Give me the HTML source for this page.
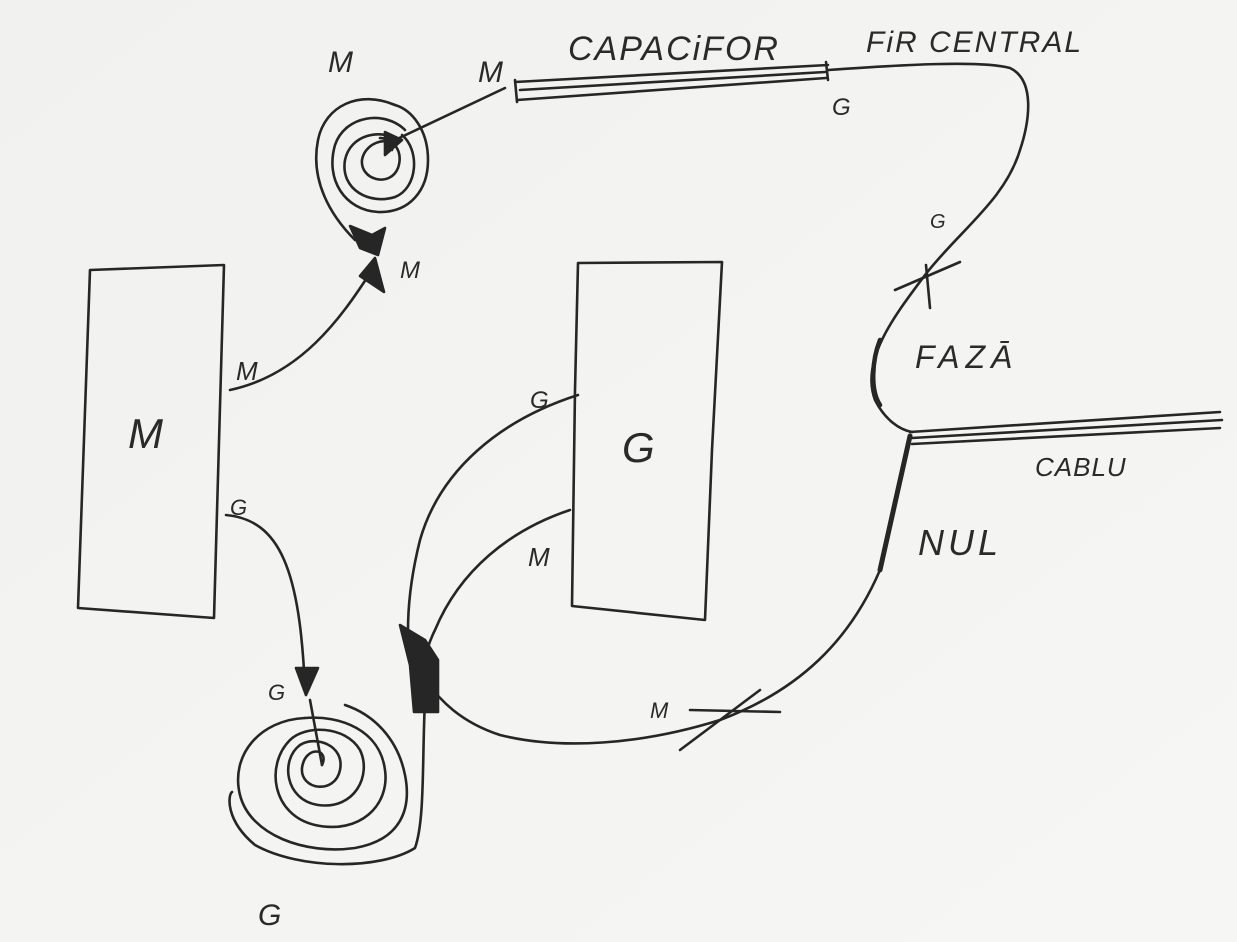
<!DOCTYPE html>
<html><head><meta charset="utf-8"><style>
html,body{margin:0;padding:0;background:#f3f3f1;}
svg{display:block}
text{font-family:"Liberation Sans",sans-serif;fill:#2a2a2a;font-style:italic}
</style></head><body>
<svg width="1237" height="942" viewBox="0 0 1237 942" xmlns="http://www.w3.org/2000/svg">
<defs><linearGradient id="bg" x1="0" y1="0" x2="1" y2="1"><stop offset="0" stop-color="#f1f1ef"/><stop offset="1" stop-color="#f6f6f4"/></linearGradient></defs>
<rect width="1237" height="942" fill="url(#bg)"/>
<g fill="none" stroke="#262626" stroke-width="2.6" stroke-linecap="round" stroke-linejoin="round">
<!-- M box -->
<path d="M90 270 L224 265 L214 618 L78 608 Z"/>
<!-- G box -->
<path d="M578 263 L722 262 L712 450 L705 620 L572 606 L575 390 Z"/>
<!-- top spiral -->
<path d="M392 150 C395 135 365 140 362 160 C360 180 390 188 398 168 C404 150 392 138 380 138"/>
<path d="M398 140 C380 128 350 135 345 160 C340 190 370 205 395 197 C418 188 420 150 402 135"/>
<path d="M405 130 C385 110 345 115 335 145 C325 180 345 210 378 212 C410 213 428 190 428 160 C428 130 412 110 395 105"/>
<path d="M395 105 C360 90 325 105 318 140 C310 180 330 215 355 240"/>
<path d="M395 140 L505 88"/>
<path d="M385 132 L402 140 L385 155 Z" fill="#262626"/>
<path d="M350 226 L372 235 L385 228 L378 255 L360 248 Z" fill="#262626"/>
<path d="M360 276 L375 258 L384 292 Z" fill="#262626"/>
<!-- capacitor -->
<path d="M515 82 L828 65 M517 100 L826 78 M515 80 L517 102 M826 62 L828 80 M520 90 L825 72"/>
<!-- wire from capacitor -->
<path d="M828 70 C900 65 980 60 1010 68 C1035 80 1030 120 1020 150 C1005 200 960 230 925 275 C895 315 860 360 875 400 C885 420 900 430 912 432"/>
<path d="M895 290 L960 262 M926 265 L930 308"/>
<path d="M880 340 C872 360 870 390 880 405" stroke-width="4.5"/>
<!-- cable -->
<path d="M910 432 L1220 412 M912 438 L1222 420 M912 444 L1220 428"/>
<!-- nul wire -->
<path d="M910 436 L880 570" stroke-width="5"/>
<path d="M880 570 C850 640 800 690 720 720 C640 745 560 750 500 735 C460 722 440 700 425 680"/>
<path d="M680 750 L760 690 M690 710 L780 712"/>
<!-- M box to top spiral -->
<path d="M230 390 C300 375 340 320 372 270"/>
<!-- M box G to bottom spiral -->
<path d="M226 515 C280 520 300 570 305 690"/>
<path d="M296 668 L318 668 L306 695 Z" fill="#262626"/>
<!-- G box to arrow -->
<path d="M578 395 C500 420 440 470 420 540 C405 600 405 650 415 685"/>
<path d="M570 510 C510 530 460 570 435 630 C425 650 422 670 420 690"/>
<path d="M400 625 L425 640 L438 660 L438 712 L414 712 L410 665 Z" fill="#262626"/>
<path d="M425 700 C422 760 425 820 415 848 C380 870 300 870 255 845 C225 820 228 795 232 792"/>
<!-- bottom spiral -->
<path d="M310 700 L322 765"/>
<path d="M322 765 C330 748 305 745 302 768 C300 790 335 795 340 770 C345 745 315 735 300 745"/>
<path d="M300 745 C280 760 285 800 318 805 C355 810 372 775 360 750 C345 725 305 725 290 740"/>
<path d="M290 740 C265 765 272 815 315 825 C360 835 390 805 385 770 C380 730 340 715 305 718"/>
<path d="M305 718 C260 720 230 755 240 795 C250 835 305 855 355 848 C400 840 412 810 405 775 C398 740 375 715 345 705"/>
</g>
<g>
<text x="328" y="72" font-size="30">M</text>
<text x="478" y="82" font-size="30">M</text>
<text x="568" y="60" font-size="34" letter-spacing="2">CAPACiFOR</text>
<text x="866" y="52" font-size="30" letter-spacing="2">FiR CENTRAL</text>
<text x="832" y="115" font-size="24">G</text>
<text x="400" y="278" font-size="24">M</text>
<text x="930" y="228" font-size="20">G</text>
<text x="915" y="368" font-size="32" letter-spacing="6">FAZĀ</text>
<text x="1035" y="476" font-size="26" letter-spacing="1">CABLU</text>
<text x="918" y="555" font-size="36" letter-spacing="4">NUL</text>
<text x="128" y="448" font-size="42">M</text>
<text x="622" y="462" font-size="42">G</text>
<text x="236" y="380" font-size="26">M</text>
<text x="230" y="515" font-size="22">G</text>
<text x="530" y="408" font-size="24">G</text>
<text x="528" y="566" font-size="26">M</text>
<text x="268" y="700" font-size="22">G</text>
<text x="650" y="718" font-size="22">M</text>
<text x="258" y="925" font-size="30">G</text>
</g>
</svg>
</body></html>
